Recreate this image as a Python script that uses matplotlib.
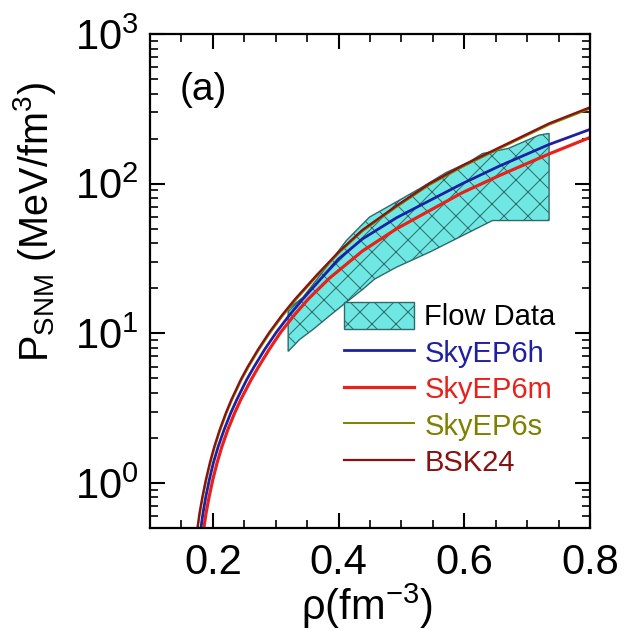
import numpy as np
import matplotlib
matplotlib.use("Agg")
import matplotlib.pyplot as plt
from matplotlib.ticker import MultipleLocator, LogLocator, NullFormatter

# 用 72 dpi 画图, 让网格阴影的间距和原图接近; 所有尺寸乘 S
DPI = 72
S = 100 / DPI

plt.rcParams['font.family'] = ['Liberation Sans', 'DejaVu Sans']
plt.rcParams['mathtext.fontset'] = 'custom'
plt.rcParams['mathtext.rm'] = 'Liberation Sans'
plt.rcParams['mathtext.it'] = 'Liberation Sans:italic'
plt.rcParams['mathtext.bf'] = 'Liberation Sans:bold'
plt.rcParams['hatch.linewidth'] = 0.7 * S

# 曲线数据 (rho in fm^-3, P in MeV/fm^3)
rho_h = [0.1810, 0.1843, 0.1887, 0.1943, 0.2008, 0.2084, 0.2179, 0.2287, 0.2381,
         0.2540, 0.2659, 0.2825, 0.3010, 0.3217, 0.3429, 0.3857, 0.4000, 0.4381,
         0.4921, 0.5444, 0.5968, 0.6556, 0.7349, 0.8000]
p_h = [0.50, 0.629, 0.805, 1.047, 1.362, 1.745, 2.269, 2.95, 3.606,
       4.913, 6.003, 7.81, 10.16, 13.21, 16.91, 26.89, 31.38, 42.75,
       59.15, 76.9, 100, 131.0, 182.7, 230.4]

rho_m = [0.1857, 0.1892, 0.1940, 0.1998, 0.2067, 0.2143, 0.2238, 0.2349, 0.2444,
         0.2611, 0.2730, 0.2897, 0.3079, 0.3294, 0.3516, 0.3857, 0.4381, 0.4921,
         0.5444, 0.5968, 0.6556, 0.7349, 0.8000]
p_m = [0.50, 0.629, 0.805, 1.047, 1.362, 1.745, 2.269, 2.95, 3.606,
       4.913, 6.003, 7.81, 10.16, 13.21, 16.91, 23.39, 35.5, 49.9,
       65.9, 87.0, 113.2, 158, 203.5]

rho_s = [0.1760, 0.1792, 0.1837, 0.1892, 0.1956, 0.2026, 0.2113, 0.2213, 0.2299,
         0.2449, 0.2561, 0.2724, 0.2903, 0.3103, 0.3311, 0.3655, 0.4000, 0.4381,
         0.4921, 0.5444, 0.6000, 0.6556, 0.7349, 0.8000]
p_s = [0.50, 0.617, 0.789, 1.026, 1.335, 1.710, 2.224, 2.89, 3.534,
       4.815, 5.883, 7.65, 9.96, 12.95, 16.57, 24.02, 34.27, 48.14,
       69.76, 98.0, 131.4, 170.9, 247.6, 317.2]

rho_b = [0.1754, 0.1787, 0.1832, 0.1887, 0.1951, 0.2021, 0.2108, 0.2208, 0.2294,
         0.2444, 0.2556, 0.2719, 0.2898, 0.3098, 0.3306, 0.3651, 0.4000, 0.4381,
         0.4921, 0.5444, 0.6000, 0.6556, 0.7349, 0.8000]
p_b = [0.50, 0.629, 0.805, 1.047, 1.362, 1.745, 2.269, 2.95, 3.606,
       4.913, 6.003, 7.81, 10.16, 13.21, 16.91, 24.51, 34.97, 49.12,
       71.18, 100, 134.1, 174.4, 252.7, 323.7]

# Flow data 区域 (上边界 -> 右边 -> 下边界)
rho_flow_top = [0.3198, 0.3433, 0.3698, 0.3963, 0.4122, 0.4492, 0.4916, 0.5286,
                0.5710, 0.6079, 0.6290, 0.6698, 0.7190, 0.7349]
p_flow_top = [14.5, 17.4, 24.2, 33.9, 41.6, 59.8, 75.4, 92.5,
              118.6, 139.8, 159, 171.8, 211, 216.6]
rho_flow_bot = [0.7349, 0.6449, 0.6290, 0.5973, 0.5444, 0.4916, 0.4571, 0.4386,
                0.4122, 0.3857, 0.3592, 0.3381, 0.3198]
p_flow_bot = [56.7, 56.7, 52.5, 45.0, 34.8, 27.6, 23.0, 19.7,
              16.1, 13.1, 10.6, 9.1, 7.57]

fig = plt.figure(figsize=(626 / DPI, 630 / DPI), dpi=DPI)
ax = fig.add_axes([150/626, 102/630, 440/626, 494/630])

band = ax.fill(rho_flow_top + rho_flow_bot, p_flow_top + p_flow_bot,
               facecolor='#6FE8E3', edgecolor='#2f6a6a', hatch='x',
               linewidth=1.0 * S, label='Flow Data')[0]

l_s, = ax.plot(rho_s, p_s, color='#808000', lw=1.4 * S, label='SkyEP6s')
l_m, = ax.plot(rho_m, p_m, color='#E8221A', lw=2.3 * S, label='SkyEP6m')
l_h, = ax.plot(rho_h, p_h, color='#1F1FA3', lw=2.0 * S, label='SkyEP6h')
l_b, = ax.plot(rho_b, p_b, color='#8B1010', lw=1.6 * S, label='BSK24')

ax.set_yscale('log')
ax.set_xlim(0.1, 0.8)
ax.set_ylim(0.5, 1000)

ax.xaxis.set_major_locator(MultipleLocator(0.2))
ax.xaxis.set_minor_locator(MultipleLocator(0.05))
ax.yaxis.set_major_locator(LogLocator(base=10, numticks=10))
ax.yaxis.set_minor_locator(LogLocator(base=10, subs=np.arange(2, 10), numticks=20))
ax.yaxis.set_minor_formatter(NullFormatter())

for sp in ax.spines.values():
    sp.set_linewidth(1.6 * S)
ax.tick_params(which='both', direction='in', top=True, right=True)
ax.tick_params(which='major', length=11 * S, width=1.5 * S, labelsize=30 * S)
ax.tick_params(which='minor', length=5.5 * S, width=1.2 * S)
ax.tick_params(axis='x', which='major', pad=11 * S)
ax.tick_params(axis='y', which='major', pad=8 * S)

ax.set_xlabel('\u03c1(fm$^{-3}$)', fontsize=30 * S)
ax.xaxis.set_label_coords(0.493, -0.108)
ax.set_ylabel(r'P$_{\rm SNM}$ (MeV/fm$^3$)', fontsize=28.5 * S)
ax.yaxis.set_label_coords(-0.21, 0.62)

ax.text(0.068, 0.887, '(a)', transform=ax.transAxes, fontsize=28 * S,
        ha='left', va='center')

handles = [band, l_h, l_m, l_s, l_b]
colors = ['black', '#1F1FA3', '#E8221A', '#808000', '#8B1010']
leg = ax.legend(handles=handles, loc='upper left',
                bbox_to_anchor=(344/626, 1 - 302/630), bbox_transform=fig.transFigure,
                frameon=False, fontsize=21 * S, handlelength=2.4, handleheight=1.05,
                handletextpad=0.35, labelspacing=0.24, borderpad=0, borderaxespad=0,
                labelcolor=colors)

fig.savefig('out.png', dpi=DPI)
